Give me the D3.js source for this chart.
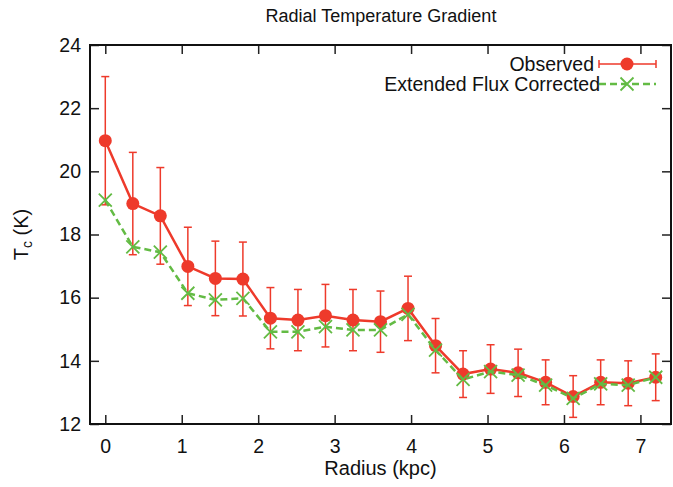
<!DOCTYPE html>
<html>
<head>
<meta charset="utf-8">
<script src="https://cdn.jsdelivr.net/npm/d3@7"></script>
<style>
  body { margin: 0; background: #fff; }
  text { font-family: "Liberation Sans", Arial, Helvetica, sans-serif; fill: #111; }
</style>
</head>
<body>
<div id="chart"></div>
<script>
// Radius bins (kpc)
const radius = [0, 0.36, 0.72, 1.08, 1.44, 1.80, 2.16, 2.52, 2.88, 3.24, 3.60,
  3.96, 4.32, 4.68, 5.04, 5.40, 5.76, 6.12, 6.48, 6.84, 7.20];
// Observed temperature and its error (K)
const observed = [20.97, 18.98, 18.59, 16.99, 16.61, 16.59, 15.35, 15.29, 15.43, 15.29, 15.24,
  15.66, 14.48, 13.58, 13.74, 13.62, 13.32, 12.87, 13.32, 13.29, 13.48];
const observedErr = [2.03, 1.62, 1.53, 1.24, 1.18, 1.17, 0.97, 0.97, 0.99, 0.97, 0.97,
  1.02, 0.86, 0.74, 0.77, 0.75, 0.71, 0.66, 0.71, 0.71, 0.74];
// Extended flux corrected temperature (K)
const corrected = [19.09, 17.61, 17.44, 16.14, 15.93, 15.98, 14.92, 14.92, 15.08, 14.98, 14.98,
  15.47, 14.34, 13.41, 13.66, 13.55, 13.23, 12.81, 13.27, 13.23, 13.48];

const xTicks = [0, 1, 2, 3, 4, 5, 6, 7];
const yTicks = [12, 14, 16, 18, 20, 22, 24];

const width = 673;
const height = 487;
const margin = { top: 45, right: 2, bottom: 63, left: 90 };

const red = "#ee3a2b";
const green = "#63bb44";

const svg = d3.select("#chart")
  .append("svg")
  .attr("width", width)
  .attr("height", height);

const x = d3.scaleLinear()
  .domain([-0.2, 7.4])
  .range([margin.left, width - margin.right]);

const y = d3.scaleLinear()
  .domain([12, 24])
  .range([height - margin.bottom, margin.top]);

// Axes, ticks pointing inwards on all four sides
svg.append("g")
  .attr("transform", `translate(0,${y(12)})`)
  .call(d3.axisBottom(x).tickValues(xTicks).tickSize(-9).tickPadding(15))
  .call(g => g.select(".domain").remove())
  .call(g => g.selectAll("text").style("font-size", "19.5px"));

svg.append("g")
  .attr("transform", `translate(0,${y(24)})`)
  .call(d3.axisTop(x).tickValues(xTicks).tickSize(-9).tickFormat(""))
  .call(g => g.select(".domain").remove());

svg.append("g")
  .attr("transform", `translate(${x(-0.2)},0)`)
  .call(d3.axisLeft(y).tickValues(yTicks).tickSize(-9).tickPadding(9))
  .call(g => g.select(".domain").remove())
  .call(g => g.selectAll("text").style("font-size", "19.5px"));

svg.append("g")
  .attr("transform", `translate(${x(7.4)},0)`)
  .call(d3.axisRight(y).tickValues(yTicks).tickSize(-9).tickFormat(""))
  .call(g => g.select(".domain").remove());

svg.selectAll(".tick line").attr("stroke", "#222").attr("stroke-width", 1.5);

// Plot border
svg.append("rect")
  .attr("x", x(-0.2))
  .attr("y", y(24))
  .attr("width", x(7.4) - x(-0.2))
  .attr("height", y(12) - y(24))
  .attr("fill", "none")
  .attr("stroke", "#111")
  .attr("stroke-width", 2);

// Titles
svg.append("text")
  .attr("x", 381)
  .attr("y", 22)
  .attr("text-anchor", "middle")
  .style("font-size", "18px")
  .text("Radial Temperature Gradient");

svg.append("text")
  .attr("x", (x(-0.2) + x(7.4)) / 2)
  .attr("y", 475)
  .attr("text-anchor", "middle")
  .style("font-size", "20px")
  .text("Radius (kpc)");

const yLabel = svg.append("text")
  .attr("transform", `translate(28,${(y(12) + y(24)) / 2}) rotate(-90)`)
  .attr("text-anchor", "middle")
  .style("font-size", "20px");
yLabel.append("tspan").text("T");
yLabel.append("tspan").attr("dy", 4).style("font-size", "14px").text("c");
yLabel.append("tspan").attr("dy", -4).text(" (K)");

const pts = radius.map((r, i) => ({ r, v: observed[i], e: observedErr[i], c: corrected[i] }));

// Error bars
const eb = svg.append("g").attr("stroke", red).attr("stroke-width", 1.5);
eb.selectAll(".bar")
  .data(pts)
  .enter()
  .append("line")
  .attr("x1", d => x(d.r)).attr("x2", d => x(d.r))
  .attr("y1", d => y(d.v - d.e)).attr("y2", d => y(d.v + d.e));
eb.selectAll(".capTop")
  .data(pts)
  .enter()
  .append("line")
  .attr("x1", d => x(d.r) - 4).attr("x2", d => x(d.r) + 4)
  .attr("y1", d => y(d.v + d.e)).attr("y2", d => y(d.v + d.e));
eb.selectAll(".capBot")
  .data(pts)
  .enter()
  .append("line")
  .attr("x1", d => x(d.r) - 4).attr("x2", d => x(d.r) + 4)
  .attr("y1", d => y(d.v - d.e)).attr("y2", d => y(d.v - d.e));

// Observed line and points
svg.append("path")
  .datum(pts)
  .attr("fill", "none")
  .attr("stroke", red)
  .attr("stroke-width", 2.5)
  .attr("d", d3.line().x(d => x(d.r)).y(d => y(d.v)));

svg.selectAll(".dot")
  .data(pts)
  .enter()
  .append("circle")
  .attr("cx", d => x(d.r))
  .attr("cy", d => y(d.v))
  .attr("r", 6.5)
  .attr("fill", red);

// Corrected dashed line and crosses
svg.append("path")
  .datum(pts)
  .attr("fill", "none")
  .attr("stroke", green)
  .attr("stroke-width", 2.5)
  .attr("stroke-dasharray", "7,4")
  .attr("d", d3.line().x(d => x(d.r)).y(d => y(d.c)));

const cross = (g, cx, cy, s) => {
  g.append("path")
    .attr("d", `M${cx - s},${cy - s}L${cx + s},${cy + s}M${cx - s},${cy + s}L${cx + s},${cy - s}`)
    .attr("stroke", green)
    .attr("stroke-width", 1.8)
    .attr("fill", "none");
};
const crosses = svg.append("g");
pts.forEach(d => cross(crosses, x(d.r), y(d.c), 6.5));

// Legend
const legend = svg.append("g");
legend.append("text")
  .attr("x", 594).attr("y", 64).attr("dy", "0.35em")
  .attr("text-anchor", "end")
  .style("font-size", "19.5px")
  .text("Observed");
legend.append("path")
  .attr("d", "M599,64H656M599,60V68M656,60V68")
  .attr("stroke", red).attr("stroke-width", 1.5).attr("fill", "none");
legend.append("circle").attr("cx", 627).attr("cy", 64).attr("r", 6.5).attr("fill", red);

legend.append("text")
  .attr("x", 600).attr("y", 84).attr("dy", "0.35em")
  .attr("text-anchor", "end")
  .style("font-size", "19.5px")
  .text("Extended Flux Corrected");
legend.append("line")
  .attr("x1", 599).attr("x2", 656).attr("y1", 84).attr("y2", 84)
  .attr("stroke", green).attr("stroke-width", 2.5).attr("stroke-dasharray", "7,4");
cross(legend, 627, 84, 6.5);
</script>
</body>
</html>
